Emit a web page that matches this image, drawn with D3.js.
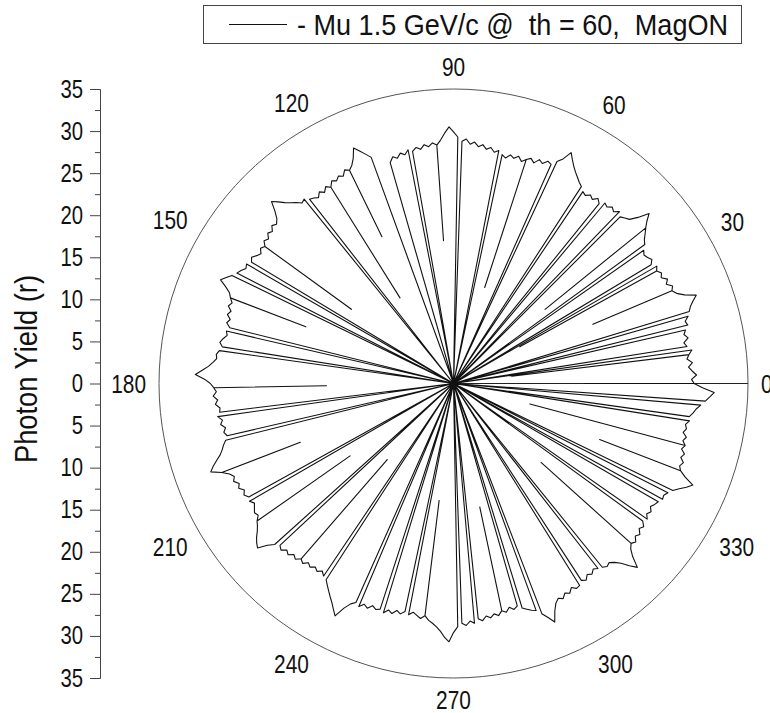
<!DOCTYPE html>
<html>
<head>
<meta charset="utf-8">
<script src="https://cdn.jsdelivr.net/npm/d3@7"></script>
<style>
  body { margin: 0; background: #fff; }
  svg { display: block; font-family: "Liberation Sans", Arial, sans-serif; }
</style>
</head>
<body>
<svg id="chart" width="770" height="713"></svg>
<script>
// Photon yield on the rim, one value per degree (0..359)
const rim000 = [28.6,28.3,28.9,28.4,28.0,28.5,27.9,28.2,28.6,28.1, 27.8,28.4,28.0,28.3,28.7,28.5,29.0,29.3,29.6,30.1,
                30.7,29.4,28.6,28.2,28.5,27.9,28.3,27.7,28.0,27.6, 27.9,27.4,27.8,27.5,27.3,27.6,28.1,28.4,28.9,29.4,
                30.0,30.8,29.5,28.6,28.3,28.0,28.4,27.9,28.2,27.8, 28.0,27.5,27.9,27.4,27.7,27.3,27.5,27.9,28.2,28.6,
                29.0,29.5,30.1,30.8,29.7,29.1,28.5,28.7,28.2,28.5, 27.9,28.3,28.0,27.6,28.1,27.7,28.0,27.5,27.8,28.2,
                27.9,28.4,28.1,28.6,28.3,28.8,28.5,29.1,28.8,29.3];
const rim090 = [29.9,30.5,29.8,29.0,28.4,28.7,28.3,28.6,28.1,28.4, 28.0,28.3,27.8,28.1,27.6,27.9,27.3,27.7,28.0,28.3,
                28.6,29.2,29.8,30.4,29.3,28.6,28.2,28.5,27.9,28.2, 27.8,28.1,27.5,27.9,27.4,27.8,27.3,27.6,27.8,28.2,
                28.0,28.5,28.9,29.4,30.0,30.6,29.5,28.7,28.3,28.6, 28.1,28.4,27.9,28.2,27.7,28.0,27.6,27.9,28.3,28.0,
                28.4,28.2,28.6,28.9,29.3,29.8,30.3,29.4,28.7,28.4, 28.0,28.3,27.8,28.1,27.6,27.9,27.4,27.7,27.5,27.9,
                28.2,27.8,28.1,28.4,28.3,28.7,29.2,29.9,30.7,29.6];
const rim180 = [28.9,28.5,28.2,28.6,28.1,28.4,27.9,28.0,28.3,27.8, 28.1,27.6,27.9,27.6,27.9,28.3,28.6,29.0,29.6,30.2,
                30.7,29.5,28.7,28.3,28.6,28.1,28.4,27.9,28.2,27.8, 28.0,27.6,27.9,28.2,28.0,28.5,28.8,29.2,29.7,30.1,
                30.4,29.3,28.6,28.2,28.5,28.0,28.3,27.8,28.1,27.6, 27.9,27.4,27.7,27.3,27.6,27.2,27.6,27.8,28.3,28.8,
                29.3,29.8,30.4,31.0,29.7,28.9,28.5,28.8,28.3,28.6, 28.1,28.4,28.2,28.5,28.0,28.3,27.8,28.1,27.7,28.0,
                27.6,27.9,28.2,27.8,28.3,28.6,29.0,29.5,30.2,30.7];
const rim270 = [29.6,28.9,28.5,28.8,28.3,28.6,28.1,28.4,27.9,28.2, 27.8,28.1,27.6,27.9,27.4,27.8,27.5,27.9,28.2,28.5,
                28.7,29.3,30.0,30.8,29.6,28.8,28.4,28.7,28.2,28.5, 28.0,28.4,28.3,27.9,28.2,27.7,28.0,27.6,27.9,28.1,
                28.4,28.2,28.6,29.2,30.1,30.9,29.6,28.8,28.4,28.7, 28.2,28.5,28.0,28.3,27.8,28.1,27.7,28.0,27.6,27.9,
                28.1,28.4,28.3,28.6,29.0,29.6,30.3,30.9,29.7,28.9, 28.6,28.9,28.4,28.7,28.2,28.5,28.1,28.4,27.9,28.2,
                28.0,28.4,28.3,28.7,29.0,29.5,30.0,30.5,31.0,29.6];

// places where the trace falls away from the rim: leave at dipFrom (deg),
// come back at dipTo (deg), lowest value dipDepth (0 = through the centre)
const dipFrom  = [0, 7, 8, 13, 16, 23, 29, 30, 35, 39, 45, 50, 56, 65, 72, 78, 88, 94, 100, 106, 116, 122, 128, 144, 149, 153, 159, 166, 171, 181, 187, 193, 201, 209, 215, 222, 229, 236, 246, 252, 258, 263, 271, 275, 282, 286, 290, 302, 308, 318, 324, 330, 333, 339, 345, 351, 355];
const dipTo    = [0, 7, 9, 14, 17, 23, 29, 31, 36, 39, 46, 51, 57, 66, 72, 79, 89, 94, 101, 110, 116, 122, 129, 144, 150, 154, 159, 167, 172, 181, 188, 194, 201, 210, 215, 223, 229, 237, 247, 253, 259, 263, 272, 276, 282, 287, 291, 303, 309, 318, 325, 331, 334, 339, 345, 352, 356];
const dipDepth = [15.6, 7, 0, 0, 0, 18, 9, 0, 0, 14, 0, 0, 0, 0, 12, 0, 0, 17, 0, 0, 19.4, 12, 0, 15, 0, 0, 18.8, 0, 0, 15.1, 0, 0, 19.5, 0, 15, 0, 12, 0, 0, 0, 0, 14, 0, 0, 15, 0, 0, 0, 0, 14, 0, 0, 0, 18.6, 9.4, 0, 0];

const angleTicks = [0, 30, 60, 90, 120, 150, 180, 210, 240, 270, 300, 330];
const radialTicks = [-35, -30, -25, -20, -15, -10, -5, 0, 5, 10, 15, 20, 25, 30, 35];
const radialMinor = [-32.5, -27.5, -22.5, -17.5, -12.5, -7.5, -2.5, 2.5, 7.5, 12.5, 17.5, 22.5, 27.5, 32.5];
const legendLabel = "- Mu 1.5 GeV/c @  th = 60,  MagON";
const axisTitle = "Photon Yield (r)";

// layout
const cx = 453.5, cy = 383.5, R = 294.5, rMax = 35;
const svg = d3.select('#chart');
const rScale = d3.scaleLinear().domain([0, rMax]).range([0, R]);
const yScale = d3.scaleLinear().domain([-rMax, rMax]).range([cy + R, cy - R]);

// squeeze text to the narrow face used in the original
function fit(sel, w) {
    sel.attr('textLength', w).attr('lengthAdjust', 'spacingAndGlyphs');
}

// build the trace
const rim = [].concat(rim000, rim090, rim180, rim270);
const dips = dipFrom.map((f, i) => ({ from: f, to: dipTo[i], depth: dipDepth[i] }));
const pts = [];
for (let a = 0; a < 360; a++) {
    if (dips.some(d => a > d.from && a < d.to)) continue;
    pts.push({ a, r: rim[a] });
    const d = dips.find(d => d.from === a);
    if (d) {
        pts.push({ a: (d.from + d.to) / 2, r: d.depth });
        if (d.to === d.from) pts.push({ a, r: rim[a] });
    }
}
pts.push({ a: 360, r: rim[0] });

const g = svg.append('g').attr('transform', `translate(${cx},${cy})`);

// outer circle
g.append('circle')
    .attr('r', rScale(rMax))
    .attr('fill', 'none')
    .attr('stroke', '#555')
    .attr('stroke-width', 1);

// radial axis along 0 deg
g.append('line')
    .attr('x1', 0).attr('y1', 0)
    .attr('x2', rScale(rMax)).attr('y2', 0)
    .attr('stroke', '#222')
    .attr('stroke-width', 1);

// data trace
const line = d3.lineRadial()
    .angle(d => (90 - d.a) * Math.PI / 180)
    .radius(d => rScale(d.r));

g.append('path')
    .datum(pts)
    .attr('d', line)
    .attr('fill', 'none')
    .attr('stroke', '#111')
    .attr('stroke-width', 1.1)
    .attr('stroke-linejoin', 'round');

// angle labels: text box kept a fixed gap outside the circle
const labGap = 13, labHalfH = 9, digitW = 11.6;
g.selectAll('text.ang')
    .data(angleTicks)
    .enter()
    .append('text')
    .attr('class', 'ang')
    .each(function(d) {
        const t = d * Math.PI / 180;
        const hw = String(d).length * digitW / 2;
        const rl = R + labGap + hw * Math.abs(Math.cos(t)) + labHalfH * Math.abs(Math.sin(t));
        d3.select(this)
            .attr('x', rl * Math.cos(t))
            .attr('y', -rl * Math.sin(t) + 9);
        fit(d3.select(this), hw * 2);
    })
    .attr('text-anchor', 'middle')
    .attr('font-size', 25)
    .attr('fill', '#111')
    .text(d => d);

// left radial scale
const axis = svg.append('g')
    .attr('transform', 'translate(100,0)')
    .call(d3.axisLeft(yScale).tickValues(radialTicks).tickSize(10).tickPadding(7)
        .tickFormat(d => Math.abs(d)));
axis.select('.domain').attr('stroke', '#444');
axis.selectAll('.tick line').attr('stroke', '#444');
axis.selectAll('.tick text')
    .attr('font-size', 25)
    .attr('font-family', '"Liberation Sans", Arial, sans-serif')
    .attr('fill', '#111')
    .each(function(d) { fit(d3.select(this), String(Math.abs(d)).length * 11.3); });

const minor = svg.append('g')
    .attr('transform', 'translate(100,0)')
    .call(d3.axisLeft(yScale).tickValues(radialMinor).tickSize(5).tickFormat(''));
minor.select('.domain').remove();
minor.selectAll('.tick line').attr('stroke', '#444');

svg.append('text')
    .attr('transform', `translate(37,369) rotate(-90)`)
    .attr('text-anchor', 'middle')
    .attr('font-size', 32)
    .attr('fill', '#111')
    .text(axisTitle)
    .call(fit, 188);

// legend
const leg = svg.append('g');
leg.append('rect')
    .attr('x', 203.5).attr('y', 5.5)
    .attr('width', 538).attr('height', 38)
    .attr('fill', '#fff')
    .attr('stroke', '#444');
leg.append('line')
    .attr('x1', 229).attr('x2', 287)
    .attr('y1', 24.5).attr('y2', 24.5)
    .attr('stroke', '#111');
leg.append('text')
    .attr('x', 297).attr('y', 35)
    .attr('font-size', 29)
    .attr('fill', '#111')
    .style('white-space', 'pre')
    .text(legendLabel)
    .call(fit, 431);
</script>
</body>
</html>
